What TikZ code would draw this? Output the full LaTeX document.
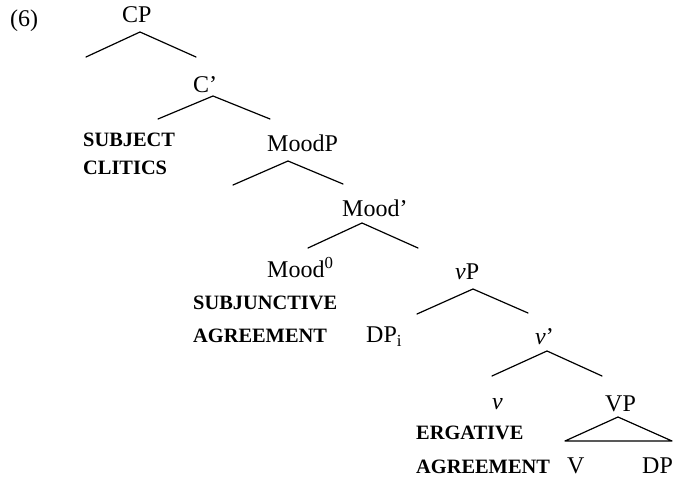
\documentclass[tikz,border=0pt]{standalone}
\usepackage{fontspec}
\setmainfont{Liberation Serif}
\begin{document}
\begin{tikzpicture}[x=1pt,y=-1pt,
  lab/.style={anchor=base west, inner sep=0pt, font=\fontsize{24}{27}\selectfont},
  blab/.style={anchor=base west, inner sep=0pt, font=\fontsize{20.4}{24}\selectfont\bfseries},
  br/.style={line width=1.2pt, line cap=round, line join=round}]
\useasboundingbox (0,0) rectangle (673,478);
% labels
\node[lab] (ex) at (10,27) {(6)};
\node[lab] (CP) at (122,23) {CP};
\node[lab] (C1) at (193,93) {C’};
\node[blab] (subj) at (83,147) {SUBJECT};
\node[blab] (clit) at (83,175) {CLITICS};
\node[lab] (MoodP) at (267,152) {MoodP};
\node[lab] (Mood1) at (342,217) {Mood’};
\node[lab] (Mood0) at (267,278) {Mood\textsuperscript{0}};
\node[blab] (subjn) at (193,310) {SUBJUNCTIVE};
\node[blab] (agr1) at (193,343) {AGREEMENT};
\node[lab] (vP) at (455,280) {\textit{v}P};
\node[lab] (DPi) at (366,343) {DP\textsubscript{i}};
\node[lab] (v1) at (535,345) {\textit{v}’};
\node[lab] (v) at (492,410) {\textit{v}};
\node[lab] (VP) at (605,412) {VP};
\node[blab] (erg) at (416,440) {ERGATIVE};
\node[blab] (agr2) at (416,474) {AGREEMENT};
\node[lab] (V) at (567,474) {V};
\node[lab] (DP) at (642,474) {DP};
% branch points
\coordinate (CP-t) at (140,32);  \coordinate (CP-l) at (86,57);   \coordinate (CP-r) at (196,57);
\coordinate (C1-t) at (213,96);  \coordinate (C1-l) at (158,119); \coordinate (C1-r) at (270,119);
\coordinate (MP-t) at (288,161); \coordinate (MP-l) at (233,185); \coordinate (MP-r) at (343,184);
\coordinate (M1-t) at (362,223); \coordinate (M1-l) at (308,248); \coordinate (M1-r) at (418,248);
\coordinate (vP-t) at (473,289); \coordinate (vP-l) at (417,314); \coordinate (vP-r) at (528,313);
\coordinate (v1-t) at (547,351); \coordinate (v1-l) at (492,376); \coordinate (v1-r) at (602,376);
\coordinate (VP-t) at (618,417); \coordinate (VP-l) at (565,441); \coordinate (VP-r) at (672,441);
% branches
\draw[br] (CP-l) -- (CP-t) -- (CP-r);
\draw[br] (C1-l) -- (C1-t) -- (C1-r);
\draw[br] (MP-l) -- (MP-t) -- (MP-r);
\draw[br] (M1-l) -- (M1-t) -- (M1-r);
\draw[br] (vP-l) -- (vP-t) -- (vP-r);
\draw[br] (v1-l) -- (v1-t) -- (v1-r);
\draw[br] (VP-l) -- (VP-t) -- (VP-r) -- cycle;
\end{tikzpicture}
\end{document}
